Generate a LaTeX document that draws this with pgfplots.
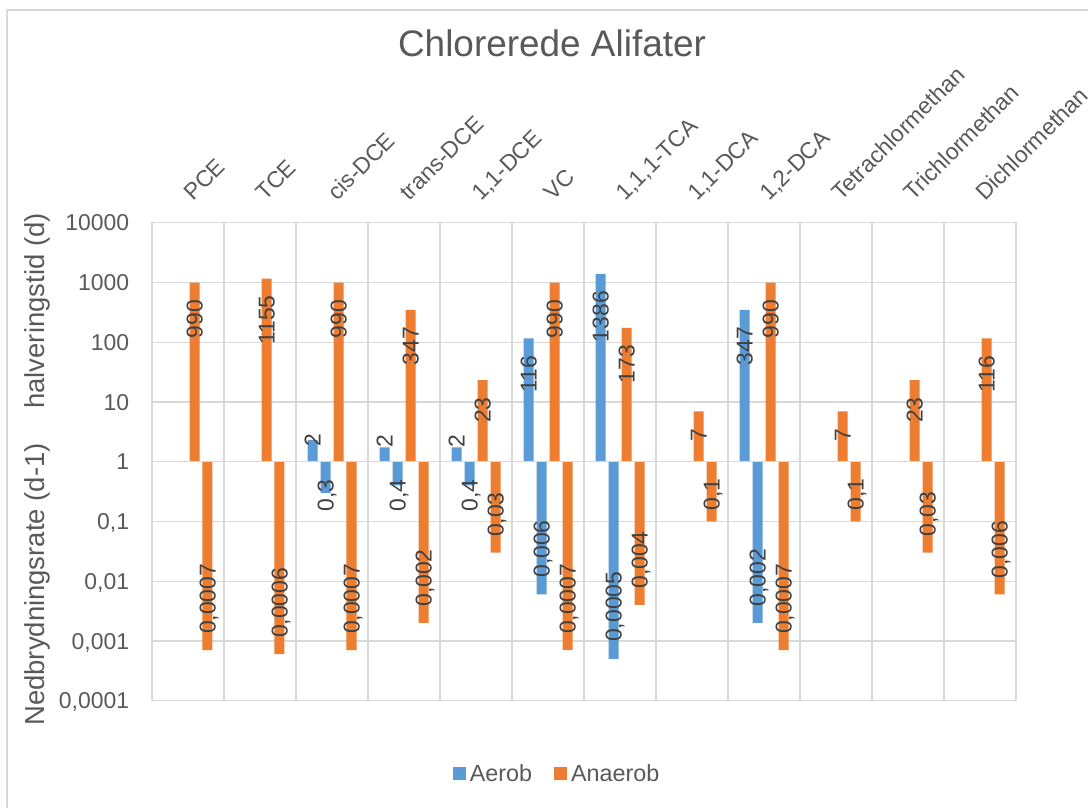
\documentclass[border=0pt]{standalone}
\usepackage{fontspec}
\setmainfont{Liberation Sans}
\usepackage{pgfplots}
\pgfplotsset{compat=1.18}
\definecolor{cblue}{RGB}{91,155,213}
\definecolor{corange}{RGB}{237,125,49}
\definecolor{gridgray}{RGB}{217,217,217}
\definecolor{textgray}{RGB}{89,89,89}
\definecolor{labgray}{RGB}{64,64,64}
\pgfplotsset{
  labstyle/.style 2 args={
    nodes near coords,
    point meta=explicit symbolic,
    visualization depends on={\thisrow{dy} \as \labdy},
    nodes near coords align={anchor=#1},
    every node near coord/.append style={xshift=#2, yshift=\labdy*0.75pt, rotate=90, anchor=#1,
      font=\fontsize{17.2}{20}\selectfont, text=labgray, inner sep=0pt,
      text height=12.3pt, text depth=0pt},
  },
}
\begin{document}
\begin{tikzpicture}
\draw[gridgray, line width=1pt] (5.25pt,-606pt) -- (5.25pt,-7.5pt) -- (817pt,-7.5pt);
\begin{axis}[
  at={(114pt,-525.5pt)}, anchor=south west,
  scale only axis, width=648pt, height=358.5pt,
  xmin=-0.5, xmax=11.5,
  ymode=log, ymin=1e-4, ymax=1e4,
  ytick={1e-4,1e-3,1e-2,1e-1,1,10,100,1000,10000},
  yticklabels={{0,0001},{0,001},{0,01},{0,1},1,10,100,1000,10000},
  yminorticks=false,
  xtick={0,...,11},
  xticklabels={PCE,TCE,cis-DCE,trans-DCE,{1,1-DCE},VC,{1,1,1-TCA},{1,1-DCA},{1,2-DCA},Tetrachlormethan,Trichlormethan,Dichlormethan},
  xticklabel pos=right,
  minor xtick={-0.5,0.5,...,11.5},
  xminorgrids, ymajorgrids, xmajorgrids=false,
  grid style={draw=gridgray, line width=0.9pt},
  minor grid style={draw=gridgray, line width=0.9pt},
  axis line style={draw=gridgray, line width=0.9pt},
  major tick length=0pt, minor tick length=0pt,
  tick style={draw=none},
  xticklabel style={xshift=3.75pt, yshift=15.6pt, rotate=45, anchor=base west,
    inner sep=0pt, font=\fontsize{17.2}{20}\selectfont, text=textgray},
  yticklabel style={anchor=east, xshift=-17pt, inner sep=0pt, text height=12.3pt, text depth=0pt,
    font=\fontsize{17.2}{20}\selectfont, text=textgray},
  title={Chlorerede Alifater},
  title style={at={(axis description cs:0.463,1.33)}, anchor=base, inner sep=0pt,
    font=\fontsize{27.7}{32}\selectfont, text=textgray},
  ylabel={Nedbrydningsrate (d-1)\hspace{26pt}halveringstid (d)},
  ylabel style={at={(axis description cs:-0.1331,0.4837)}, anchor=center, inner sep=0pt,
    font=\fontsize{20.6}{24}\selectfont, text=textgray},
  legend columns=2,
  legend style={at={(axis description cs:0.4676,-0.1533)}, anchor=center, draw=none, fill=none,
    inner sep=0pt, outer sep=0pt, nodes={inner sep=0pt, text=textgray},
    font=\fontsize{17.5}{21}\selectfont,
    /tikz/every odd column/.style={column sep=3pt},
    /tikz/every even column/.style={column sep=16.5pt}},
]
% Aerob half-life (d)
\addplot[ybar, bar width=0.1389, bar shift=-0.2708, fill=cblue, draw=none, labstyle={east}{-14.625pt},
  legend image code/.code={\fill[cblue] (0pt,-4.875pt) rectangle (9.75pt,4.875pt);}]
  table[x=x, y=y, meta=lab] {
x y lab dy
2 2.31 2 6
3 1.733 2 13.4
4 1.733 2 13.4
5 115.5 116 -17
6 1386 1386 -17
8 346.6 347 -17
};
\addlegendentry{Aerob}
% Aerob rate (d-1)
\addplot[ybar, bar width=0.1389, bar shift=-0.0903, fill=cblue, draw=none, labstyle={west}{-4.875pt}, forget plot]
  table[x=x, y=y, meta=lab] {
x y lab dy
2 0.3 0,3 -18.8
3 0.4 0,4 -26.2
4 0.4 0,4 -26.2
5 0.006 0,006 16.5
6 0.0005 0,0005 16.8
8 0.002 0,002 16.5
};
% Anaerob half-life (d)
\addplot[ybar, bar width=0.1389, bar shift=0.0903, fill=corange, draw=none, labstyle={east}{4.875pt},
  legend image code/.code={\fill[corange] (0pt,-4.875pt) rectangle (9.75pt,4.875pt);}]
  table[x=x, y=y, meta=lab] {
x y lab dy
0 990 990 -17
1 1155 1155 -16.5
2 990 990 -17
3 346.6 347 -17
4 23.1 23 -17
5 990 990 -17
6 173.3 173 -17
7 6.93 7 -17.5
8 990 990 -17
9 6.93 7 -17.5
10 23.1 23 -17
11 115.5 116 -17
};
\addlegendentry{Anaerob}
% Anaerob rate (d-1)
\addplot[ybar, bar width=0.1389, bar shift=0.2708, fill=corange, draw=none, labstyle={west}{14.625pt}, forget plot]
  table[x=x, y=y, meta=lab] {
x y lab dy
0 0.0007 0,0007 16
1 0.0006 0,0006 16
2 0.0007 0,0007 16
3 0.002 0,002 16
4 0.03 0,03 15.5
5 0.0007 0,0007 16
6 0.004 0,004 16
7 0.1 0,1 11
8 0.0007 0,0007 16
9 0.1 0,1 11
10 0.03 0,03 16
11 0.006 0,006 16
};
\draw[gridgray, line width=0.9pt] (axis cs:-0.5,1) -- (axis cs:11.5,1);
\end{axis}
\pgfresetboundingbox
\useasboundingbox (0pt,0pt) rectangle (816pt,-605.25pt);
\end{tikzpicture}
\end{document}
